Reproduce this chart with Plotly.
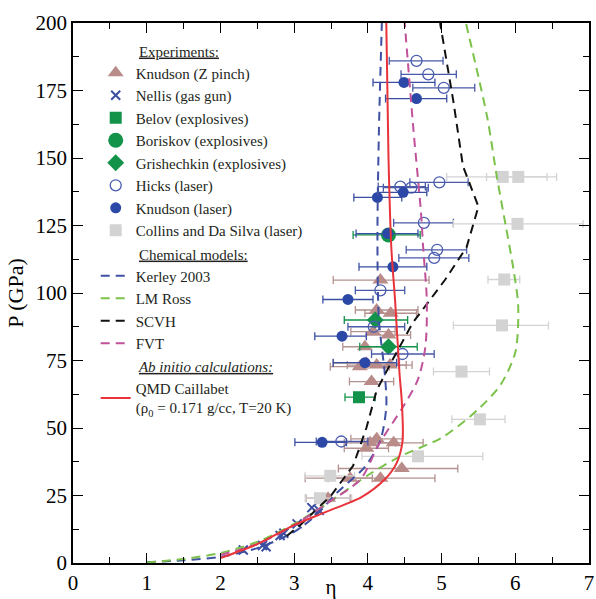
import plotly.graph_objects as go

# ---------------- model curves (eta, P in GPa) ----------------
kerley_eta = [1.0, 1.5, 2.0, 2.5, 3.0, 3.31, 3.58, 3.96, 4.17, 4.25, 4.23, 4.15, 4.13, 4.15, 4.19]
kerley_p   = [0.3, 1.0, 2.3, 5.5, 11.5, 18, 26, 35.6, 45.5, 58, 70, 90, 120, 160, 200]

ross_eta = [1.0, 1.5, 2.0, 2.5, 3.0, 3.5, 4.0, 4.44, 5.02, 5.5, 5.8, 6.0, 6.04, 5.98, 5.87, 5.75, 5.62, 5.33]
ross_p   = [0.2, 1.5, 3.7, 7.8, 14.5, 23, 32.5, 39.5, 46.7, 57, 66, 78, 95, 108, 125, 143, 165, 200]

scvh_eta = [2.9, 3.08, 3.5, 3.8, 3.98, 4.12, 4.33, 4.61, 5.05, 5.34, 5.5, 5.29, 5.16, 4.98]
scvh_p   = [10, 14, 25, 36, 50, 64, 75, 89, 105, 117, 132, 147, 171, 200]

fvt_eta = [2.0, 2.5, 3.0, 3.44, 3.9, 4.15, 4.48, 4.68, 4.78, 4.8, 4.75, 4.72, 4.62, 4.5]
fvt_p   = [3, 7, 14, 22, 31, 44, 58, 68, 80, 97, 117, 130, 160, 200]

qmd_eta = [2.0, 2.5, 3.0, 3.44, 3.92, 4.23, 4.39, 4.47, 4.46, 4.43, 4.37, 4.32, 4.28, 4.25]
qmd_p   = [1.8, 7, 14, 19, 24.5, 31, 37, 45, 60, 70, 97, 116, 150, 200]

# ---------------- experiments: eta, P, eta_low, eta_high ----------------
zp_eta = [4.17, 4.12, 4.31, 4.07, 4.28, 3.96, 3.98, 3.89, 4.12, 4.30, 4.05, 4.12, 4.35, 4.03, 3.98, 4.46, 4.17, 3.76, 3.46]
zp_p   = [104.8, 93.7, 92.5, 85.7, 84.4, 80.1, 74.0, 72.7, 73.3, 73.3, 67.2, 46.0, 44.5, 44.5, 42.5, 35.0, 31.4, 31.4, 24.0]
zp_lo  = [3.53, 3.83, 3.96, 3.77, 3.98, 3.66, 3.53, 3.49, 3.72, 4.00, 3.75, 3.77, 3.95, 3.68, 3.68, 3.60, 3.15, 3.46, 3.16]
zp_hi  = [4.83, 4.68, 4.66, 4.37, 4.58, 4.26, 4.43, 4.29, 4.52, 4.60, 4.35, 4.47, 4.75, 4.38, 4.28, 5.22, 4.91, 4.06, 3.76]

nellis_eta = [2.31, 2.57, 2.62, 2.81, 2.86, 3.04, 3.24, 3.34]
nellis_p   = [4.8, 6.5, 6.0, 10.2, 11.0, 14.5, 20.5, 19.5]

belov_eta = [3.88]
belov_p   = [61.4]
belov_lo  = [3.69]
belov_hi  = [4.10]

boriskov_eta = [4.28]
boriskov_p   = [121.5]
boriskov_lo  = [3.80]
boriskov_hi  = [4.71]

grish_eta = [4.10, 4.28]
grish_p   = [90.0, 80.1]
grish_lo  = [3.68, 3.89]
grish_hi  = [4.54, 4.67]

hicks_eta = [4.66, 4.82, 5.03, 4.97, 4.44, 4.59, 4.76, 4.94, 4.90, 4.17, 4.08, 4.47, 3.64]
hicks_p   = [186, 181, 176, 141, 139.4, 139, 126, 116, 113, 101, 87.5, 77.4, 45]
hicks_lo  = [4.29, 4.45, 4.61, 4.57, 4.14, 4.21, 4.35, 4.52, 4.42, 3.83, 3.73, 4.05, 3.30]
hicks_hi  = [5.02, 5.20, 5.45, 5.36, 4.78, 4.82, 5.16, 5.34, 5.37, 4.50, 4.50, 4.90, 4.00]

klaser_eta = [4.49, 4.66, 4.13, 4.48, 4.27, 4.34, 3.73, 3.65, 3.96, 3.38]
klaser_p   = [178, 172, 135.4, 137.3, 122, 109.7, 97.6, 84, 74.2, 44.7]
klaser_lo  = [4.07, 4.24, 3.81, 4.14, 3.84, 3.88, 3.39, 3.28, 3.53, 3.01]
klaser_hi  = [4.91, 5.07, 4.46, 4.80, 4.68, 4.80, 4.07, 3.98, 4.39, 3.71]

collins_eta = [5.83, 6.04, 6.03, 5.85, 5.82, 5.27, 5.52, 4.68, 3.49, 3.35]
collins_p   = [143, 143, 125.6, 105, 88, 70.9, 53.2, 39.5, 32.3, 24.0]
collins_lo  = [5.07, 5.61, 5.16, 5.63, 5.16, 4.89, 5.14, 3.92, 3.15, 3.15]
collins_hi  = [6.43, 6.56, 6.92, 6.06, 6.45, 5.65, 5.86, 5.56, 3.82, 3.78]

FONT = "Liberation Serif"

fig = go.Figure()


def add_points(name, eta, p, lo, hi, symbol, size, color, ecolor, open_marker=False):
    err = None
    if lo is not None:
        err = dict(type="data", symmetric=False,
                   array=[h - e for e, h in zip(eta, hi)],
                   arrayminus=[e - l for e, l in zip(eta, lo)],
                   color=ecolor, thickness=1.3, width=4)
    if open_marker:
        marker = dict(symbol=symbol, size=size, color="rgba(255,255,255,0)",
                      line=dict(color=color, width=1.3))
    elif symbol == "x-thin":
        marker = dict(symbol=symbol, size=size, color=color, line=dict(color=color, width=2))
    else:
        marker = dict(symbol=symbol, size=size, color=color, line=dict(width=0))
    fig.add_trace(go.Scatter(x=eta, y=p, mode="markers", name=name, marker=marker,
                             error_x=err, legend="legend"))


add_points("Knudson (Z pinch)", zp_eta, zp_p, zp_lo, zp_hi, "triangle-up", 14, "#b98c8a", "#b3928f")
add_points("Nellis (gas gun)", nellis_eta, nellis_p, None, None, "x-thin", 9, "#3b4fa0", None)
add_points("Belov (explosives)", belov_eta, belov_p, belov_lo, belov_hi, "square", 12, "#13934a", "#13934a")
add_points("Boriskov (explosives)", boriskov_eta, boriskov_p, boriskov_lo, boriskov_hi, "circle", 15, "#13934a", "#13934a")
add_points("Grishechkin (explosives)", grish_eta, grish_p, grish_lo, grish_hi, "diamond", 13, "#13934a", "#13934a")
add_points("Hicks (laser)", hicks_eta, hicks_p, hicks_lo, hicks_hi, "circle", 11, "#4a5db0", "#4a5aa8", open_marker=True)
add_points("Knudson (laser)", klaser_eta, klaser_p, klaser_lo, klaser_hi, "circle", 11, "#2c48a6", "#3a4ea2")
add_points("Collins and Da Silva (laser)", collins_eta, collins_p, collins_lo, collins_hi, "square", 12, "#d3d3d3", "#d3d3d3")

DASH = "9px,6px"
fig.add_trace(go.Scatter(x=kerley_eta, y=kerley_p, mode="lines", name="Kerley 2003",
                         line=dict(color="#3f51a3", width=2, dash=DASH, shape="spline", smoothing=0.8),
                         legend="legend2"))
fig.add_trace(go.Scatter(x=ross_eta, y=ross_p, mode="lines", name="LM Ross",
                         line=dict(color="#7cc24a", width=2, dash=DASH, shape="spline", smoothing=0.8),
                         legend="legend2"))
fig.add_trace(go.Scatter(x=scvh_eta, y=scvh_p, mode="lines", name="SCVH",
                         line=dict(color="#111111", width=2, dash=DASH), legend="legend2"))
fig.add_trace(go.Scatter(x=fvt_eta, y=fvt_p, mode="lines", name="FVT",
                         line=dict(color="#c0529a", width=2, dash=DASH, shape="spline", smoothing=0.8),
                         legend="legend2"))
fig.add_trace(go.Scatter(x=qmd_eta, y=qmd_p, mode="lines",
                         name="QMD Caillabet<br>(ρ<sub>0</sub> = 0.171 g/cc, T=20 K)",
                         line=dict(color="#e8333a", width=2, shape="spline", smoothing=0.8),
                         legend="legend3"))

LFS = 15
legend_common = dict(xanchor="left", yanchor="top", bgcolor="rgba(0,0,0,0)", borderwidth=0,
                     font=dict(family=FONT, size=LFS, color="#231f20"), tracegroupgap=0)
title_font = dict(family=FONT, size=LFS, color="#231f20")
pad = "\u00a0" * 11

fig.update_layout(
    width=596, height=599,
    margin=dict(l=73, r=7, t=23, b=36),
    paper_bgcolor="white", plot_bgcolor="white",
    font=dict(family=FONT, color="black"),
    showlegend=True,
    legend=dict(x=0.044, y=0.974, title=dict(text=pad + "<u>Experiments:</u>", font=title_font), **legend_common),
    legend2=dict(x=0.044, y=0.598, title=dict(text=pad + "<u>Chemical models:</u>", font=title_font), **legend_common),
    legend3=dict(x=0.044, y=0.390, title=dict(text=pad + "<u><i>Ab initio calculations:</i></u>", font=title_font),
                 **legend_common),
)

fig.update_xaxes(range=[0, 7], dtick=1, tick0=0, showgrid=False, zeroline=False,
                 showline=True, linecolor="black", linewidth=1.5, mirror="ticks",
                 ticks="inside", ticklen=10, tickwidth=1.3, tickcolor="black",
                 minor=dict(ticks="inside", dtick=0.5, ticklen=6, tickwidth=1.3, tickcolor="black"),
                 tickfont=dict(family=FONT, size=21, color="black"),
                 title=dict(text="η", font=dict(family=FONT, size=21, color="black"), standoff=0),
                 automargin=False)
fig.update_yaxes(range=[0, 200], dtick=25, tick0=0, showgrid=False, zeroline=False,
                 showline=True, linecolor="black", linewidth=1.5, mirror="ticks",
                 ticks="inside", ticklen=10, tickwidth=1.3, tickcolor="black",
                 minor=dict(ticks="inside", dtick=12.5, ticklen=6, tickwidth=1.3, tickcolor="black"),
                 tickfont=dict(family=FONT, size=21, color="black"),
                 title=dict(text="P (GPa)", font=dict(family=FONT, size=22, color="black"), standoff=6),
                 automargin=False)

# remove the page's default 8px body margin so the figure sits at the window's corner
fig.write_html("out.html", config={"displayModeBar": False},
               post_script="document.body.style.margin='0';")
